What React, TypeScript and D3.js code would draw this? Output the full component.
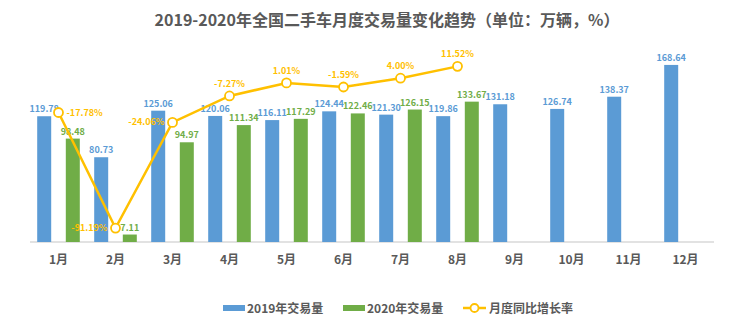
import React from "react";
import * as d3 from "d3";

const months = ["1月", "2月", "3月", "4月", "5月", "6月", "7月", "8月", "9月", "10月", "11月", "12月"];
const vol2019 = [119.78, 80.73, 125.06, 120.06, 116.11, 124.44, 121.3, 119.86, 131.18, 126.74, 138.37, 168.64];
const vol2020 = [98.48, 7.11, 94.97, 111.34, 117.29, 122.46, 126.15, 133.67];
const yoy = [-17.78, -91.19, -24.06, -7.27, 1.01, -1.59, 4.0, 11.52];
const yoyLabelPos = ["right", "left", "left", "top", "top", "top", "top", "top"];

const W = 752, H = 329;
const BLUE = "#5b9bd5", GREEN = "#70ad47", GOLD = "#ffc000";
const FONT = "'Microsoft YaHei','Noto Sans CJK SC','Noto Sans',sans-serif";

export default function App() {
  const x = d3.scaleBand<string>().domain(months).range([30, 714]);
  const y = d3.scaleLinear().domain([0, 180]).range([242, 53]);
  const y2 = d3.scaleLinear().domain([-100, 20]).range([242, 53]);
  const bw = 14;
  const off = 14.3;
  const cx = (m: string) => (x(m) as number) + x.bandwidth() / 2;
  const line = d3.line<number>().x((_, i) => cx(months[i])).y((d) => y2(d));
  const LF = 9;

  return (
    <svg width={W} height={H} style={{ position: "absolute", left: 0, top: 0, fontFamily: FONT }}>
      <rect width={W} height={H} fill="#fff" />
      <text x={387} y={26} textAnchor="middle" fontSize={16} fontWeight="bold" fill="#595959">
        2019-2020年全国二手车月度交易量变化趋势（单位：万辆，%）
      </text>
      <line x1={30} x2={714} y1={242} y2={242} stroke="#d9d9d9" strokeWidth={1.5} />
      {vol2019.map((v, i) => {
        const m = months[i];
        const bx = cx(m) - off - bw / 2;
        return (
          <g key={"b" + i}>
            <rect x={bx} y={y(v)} width={bw} height={y(0) - y(v)} fill={BLUE} />
            <text x={bx + bw / 2} y={y(v) - 4} textAnchor="middle" fontSize={LF} fontWeight="bold" fill={BLUE}>
              {v.toFixed(2)}
            </text>
          </g>
        );
      })}
      {vol2020.map((v, i) => {
        const m = months[i];
        const bx = cx(m) + off - bw / 2;
        return (
          <g key={"g" + i}>
            <rect x={bx} y={y(v)} width={bw} height={y(0) - y(v)} fill={GREEN} />
            <text x={bx + bw / 2} y={y(v) - 4} textAnchor="middle" fontSize={LF} fontWeight="bold" fill={GREEN}>
              {v.toFixed(2)}
            </text>
          </g>
        );
      })}
      <path d={line(yoy) || ""} fill="none" stroke={GOLD} strokeWidth={2.5} />
      {yoy.map((v, i) => {
        const px = cx(months[i]);
        const py = y2(v);
        const pos = yoyLabelPos[i];
        let tx = px, ty = py - 9, anchor: "start" | "middle" | "end" = "middle";
        if (pos === "right") { tx = px + 8; ty = py + 3; anchor = "start"; }
        if (pos === "left") { tx = px - 8; ty = py + 3; anchor = "end"; }
        return (
          <g key={"p" + i}>
            <circle cx={px} cy={py} r={4.5} fill="#fff" stroke={GOLD} strokeWidth={1.8} />
            <text x={tx} y={ty} textAnchor={anchor} fontSize={LF} fontWeight="bold" fill={GOLD}>
              {v.toFixed(2) + "%"}
            </text>
          </g>
        );
      })}
      {months.map((m) => (
        <text key={m} x={cx(m)} y={264} textAnchor="middle" fontSize={12} fontWeight="bold" fill="#595959">
          {m}
        </text>
      ))}
      <g fontSize={12} fontWeight="bold" fill="#595959">
        <rect x={223} y={305} width={22} height={6} fill={BLUE} />
        <text x={247} y={313}>2019年交易量</text>
        <rect x={343} y={305} width={22} height={6} fill={GREEN} />
        <text x={367} y={313}>2020年交易量</text>
        <line x1={463} x2={486} y1={308} y2={308} stroke={GOLD} strokeWidth={2.5} />
        <circle cx={474.5} cy={308} r={4} fill="#fff" stroke={GOLD} strokeWidth={1.8} />
        <text x={489} y={313}>月度同比增长率</text>
      </g>
    </svg>
  );
}
